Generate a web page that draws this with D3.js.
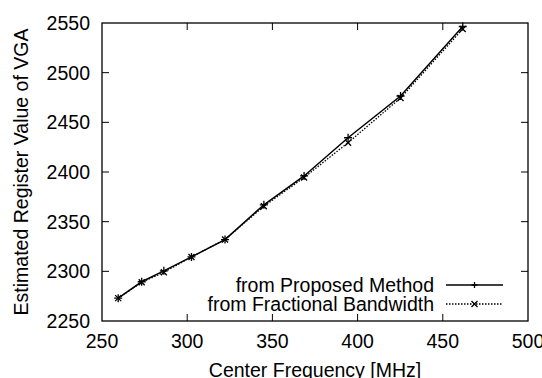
<!DOCTYPE html>
<html>
<head>
<meta charset="utf-8">
<script src="https://cdn.jsdelivr.net/npm/d3@7"></script>
<style>
  body { margin: 0; background: #fff; }
  svg { display: block; }
  text { font-family: "Liberation Sans", Arial, sans-serif; fill: #000; }
</style>
</head>
<body>
<svg id="chart"></svg>
<script>
// data
const freq = [259.5, 273.3, 286.3, 302.5, 322.2, 345, 368.6, 394.4, 425.2, 461.7];
const proposed = [2273, 2289.5, 2300.5, 2314.5, 2332, 2367, 2396, 2434.5, 2476.5, 2546.5];
const fractional = [2273, 2289, 2299, 2314.5, 2332, 2365.5, 2394.5, 2429.5, 2474.5, 2544];
const xTicks = [250, 300, 350, 400, 450, 500];
const yTicks = [2250, 2300, 2350, 2400, 2450, 2500, 2550];
const seriesNames = ["from Proposed Method", "from Fractional Bandwidth"];

const W = 542, H = 378;
const margin = {top: 23, right: 14, bottom: 57, left: 102};
const width = W - margin.left - margin.right;
const height = H - margin.top - margin.bottom;

const svg = d3.select('#chart').attr('width', W).attr('height', H);
const g = svg.append('g')
    .attr('transform', 'translate(' + margin.left + ',' + margin.top + ')');

const x = d3.scaleLinear().domain([250, 500]).range([0, width]);
const y = d3.scaleLinear().domain([2250, 2550]).range([height, 0]);

const tickLen = 7;
const fs = 19.5;

// tick marks, mirrored on all sides
xTicks.slice(1, -1).forEach(function(t) {
    g.append('line').attr('x1', x(t)).attr('x2', x(t)).attr('y1', height).attr('y2', height - tickLen);
    g.append('line').attr('x1', x(t)).attr('x2', x(t)).attr('y1', 0).attr('y2', tickLen);
});
yTicks.slice(1, -1).forEach(function(t) {
    g.append('line').attr('x1', 0).attr('x2', tickLen).attr('y1', y(t)).attr('y2', y(t));
    g.append('line').attr('x1', width).attr('x2', width - tickLen).attr('y1', y(t)).attr('y2', y(t));
});
g.selectAll('line').attr('stroke', '#000').attr('stroke-width', 1);

// tick labels
g.selectAll('.xt').data(xTicks).enter().append('text')
    .attr('x', d => x(d)).attr('y', height + 27)
    .attr('text-anchor', 'middle').style('font-size', fs + 'px')
    .text(d => d);
g.selectAll('.yt').data(yTicks).enter().append('text')
    .attr('x', -12).attr('y', d => y(d) + 7)
    .attr('text-anchor', 'end').style('font-size', fs + 'px')
    .text(d => d);

// axis titles
svg.append('text')
    .attr('transform', 'translate(28,' + (margin.top + height / 2) + ') rotate(-90)')
    .attr('text-anchor', 'middle').style('font-size', fs + 'px')
    .text('Estimated Register Value of VGA');
svg.append('text')
    .attr('x', 315).attr('y', 377)
    .attr('text-anchor', 'middle').style('font-size', fs + 'px')
    .text('Center Frequency [MHz]');

// lines
const line = d3.line().x(d => x(d[0])).y(d => y(d[1]));
const propData = freq.map((f, i) => [f, proposed[i]]);
const fracData = freq.map((f, i) => [f, fractional[i]]);

g.append('path').datum(fracData).attr('d', line)
    .attr('fill', 'none').attr('stroke', '#000').attr('stroke-width', 1.3)
    .attr('stroke-dasharray', '1.5,1.5');
g.append('path').datum(propData).attr('d', line)
    .attr('fill', 'none').attr('stroke', '#000').attr('stroke-width', 1.5);

function plus(sel, cx, cy, s) {
    sel.append('path').attr('d', 'M' + (cx - s) + ',' + cy + 'H' + (cx + s) + 'M' + cx + ',' + (cy - s) + 'V' + (cy + s))
        .attr('stroke', '#000').attr('stroke-width', 1.3);
}
function cross(sel, cx, cy, s) {
    sel.append('path').attr('d', 'M' + (cx - s) + ',' + (cy - s) + 'L' + (cx + s) + ',' + (cy + s) + 'M' + (cx - s) + ',' + (cy + s) + 'L' + (cx + s) + ',' + (cy - s))
        .attr('stroke', '#000').attr('stroke-width', 1.3);
}
propData.forEach(d => plus(g, x(d[0]), y(d[1]), 4));
fracData.forEach(d => cross(g, x(d[0]), y(d[1]), 3));

// frame
g.append('rect').attr('width', width).attr('height', height)
    .attr('fill', 'none').attr('stroke', '#000').attr('stroke-width', 1.3);

// legend
const legY = [285, 304];
const legTextX = 434 - margin.left;
const legX1 = 446 - margin.left, legX2 = 503 - margin.left;
seriesNames.forEach(function(name, i) {
    const ly = legY[i] - margin.top;
    g.append('text').attr('x', legTextX).attr('y', ly + 7)
        .attr('text-anchor', 'end').style('font-size', fs + 'px').text(name);
    const l = g.append('line').attr('x1', legX1).attr('x2', legX2).attr('y1', ly).attr('y2', ly)
        .attr('stroke', '#000');
    if (i === 0) {
        l.attr('stroke-width', 1.5);
        plus(g, (legX1 + legX2) / 2, ly, 3);
    } else {
        l.attr('stroke-width', 1.3).attr('stroke-dasharray', '1.5,1.5');
        cross(g, (legX1 + legX2) / 2, ly, 3);
    }
});
</script>
</body>
</html>
